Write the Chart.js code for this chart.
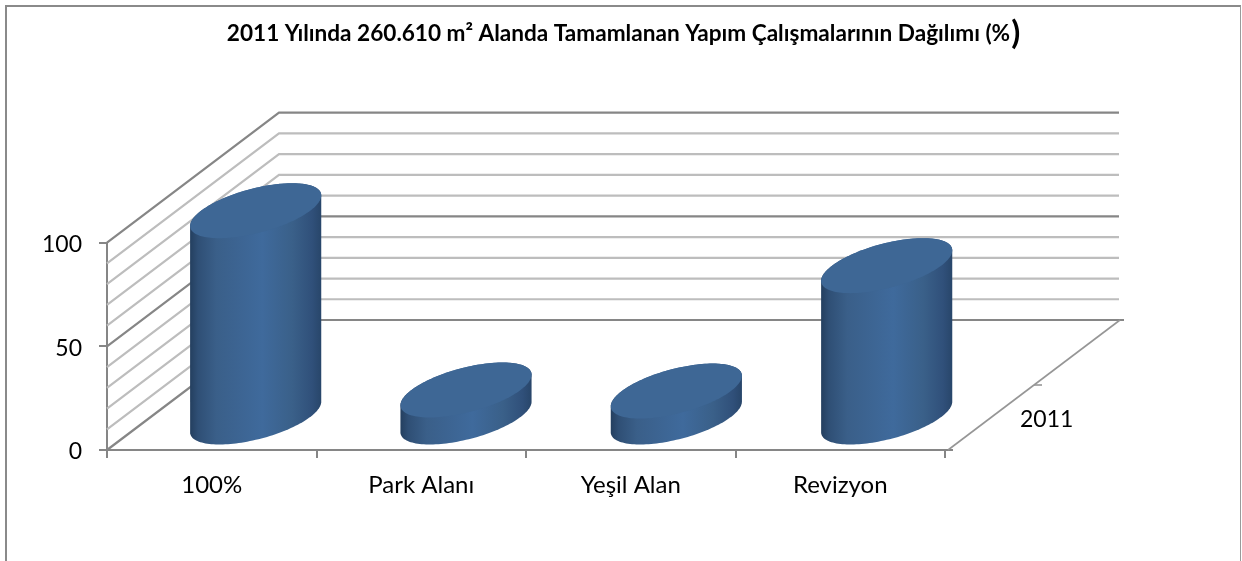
<!DOCTYPE html>
<html lang="tr">
<head>
<meta charset="utf-8">
<title>2011 Yapım Çalışmaları</title>
<script src="https://cdn.jsdelivr.net/npm/chart.js@4/dist/chart.umd.min.js"></script>
<style>
html,body{margin:0;padding:0;width:1242px;height:561px;overflow:hidden;background:#fff}
#frame{position:absolute;left:5px;top:5px;width:1233px;height:600px;border-left:2px solid #8a8a8a;border-top:2px solid #8a8a8a;border-right:1px solid #9a9a9a}
canvas{position:absolute;left:0;top:0}
</style>
</head>
<body>
<div id="frame"></div>
<canvas id="c" width="1237" height="561"></canvas>
<script>
const categories = ['100%', 'Park Alanı', 'Yeşil Alan', 'Revizyon'];
const values = [100, 13.5, 13, 73.5];
const seriesName = '2011';
const wallValues = [0, 10, 20, 30, 40, 50, 60, 70, 80, 90, 100];
const majorValues = [0, 50, 100];
const yTicks = [0, 50, 100];
const titleText = '2011 Yılında 260.610 m² Alanda Tamamlanan Yapım Çalışmalarının Dağılımı (%';
const titleClose = ')';

const FONT = 'Lato, Carlito, Calibri, sans-serif';
const AXIS = '#868686', MINOR = '#bdbdbd';
const DEPTH = {dx: 172, dy: -130};          // floor depth vector
const ROW = {dx: 43.5, dy: -32};            // where the single series row sits on the floor
const RADIUS = {vx: 36.4, vy: -27.5};       // depth half-axis of a cylinder's disc

function line(ctx, pts, color, w) {
  ctx.save();
  ctx.strokeStyle = color; ctx.lineWidth = w; ctx.lineJoin = 'miter';
  ctx.beginPath();
  pts.forEach((p, i) => i ? ctx.lineTo(p[0], p[1]) : ctx.moveTo(p[0], p[1]));
  ctx.stroke();
  ctx.restore();
}

const titleCentrePlugin = {
  id: 'titleCentre',
  afterLayout(chart) {
    chart.titleBlock.left = 0;
    chart.titleBlock.right = chart.width;
  }
};

const wallsPlugin = {
  id: 'walls',
  beforeDatasetsDraw(chart) {
    const {ctx, scales: {x, y}} = chart;
    const L = x.left, R = x.right, B = y.bottom;
    const backL = L + DEPTH.dx, backR = R + DEPTH.dx + 2;
    const sorted = wallValues.filter(v => !majorValues.includes(v)).concat(majorValues);
    sorted.forEach(v => {
      if (v === 0) return;
      const py = y.getPixelForValue(v);
      line(ctx, [[L, py], [backL, py + DEPTH.dy], [backR, py + DEPTH.dy]],
           majorValues.includes(v) ? AXIS : MINOR, 2.2);
    });
    // floor
    line(ctx, [[L, B], [backL, B + DEPTH.dy], [backR + 5, B + DEPTH.dy]], AXIS, 2.2);
    line(ctx, [[R + 8, B], [R, B]], AXIS, 2);
    line(ctx, [[R + 3, B], [R + DEPTH.dx + 3, B + DEPTH.dy]], '#969696', 1.6);
    const mx = R + DEPTH.dx / 2 + 3, my = B + DEPTH.dy / 2;
    line(ctx, [[mx, my], [mx + 8, my]], '#969696', 1.6);
  }
};

const cylinderPlugin = {
  id: 'cylinders',
  afterDatasetsDraw(chart) {
    const {ctx, scales: {x}} = chart;
    chart.getDatasetMeta(0).data.forEach(bar => {
      const cx = bar.x + ROW.dx + (bar.x - x.left) * 0.004 ;
      const rx = bar.width / 2;
      const vx = RADIUS.vx, vy = RADIUS.vy;
      const ux = Math.sqrt(rx * rx - vx * vx);
      const t0 = Math.atan2(vx, ux);
      const at = (cy, t) => [cx + ux * Math.cos(t) + vx * Math.sin(t), cy + vy * Math.sin(t)];
      const topY = bar.y + ROW.dy, baseY = bar.base + ROW.dy;

      const g = ctx.createLinearGradient(cx - rx, 0, cx + rx, 0);
      g.addColorStop(0, '#243f5f');
      g.addColorStop(0.06, '#2f4f75');
      g.addColorStop(0.2, '#3a5f89');
      g.addColorStop(0.55, '#3f6a9c');
      g.addColorStop(0.78, '#3a6089');
      g.addColorStop(0.93, '#30507a');
      g.addColorStop(1, '#28466a');

      // side surface: lower half of the base disc, closed over the far side of the top disc
      ctx.beginPath();
      const N = 72;
      for (let i = 0; i <= N; i++) {
        const p = at(baseY, t0 - Math.PI * i / N);
        i ? ctx.lineTo(p[0], p[1]) : ctx.moveTo(p[0], p[1]);
      }
      for (let i = 0; i <= N; i++) {
        const p = at(topY, t0 + Math.PI - Math.PI * i / N);
        ctx.lineTo(p[0], p[1]);
      }
      ctx.closePath();
      ctx.fillStyle = g;
      ctx.fill();

      // top disc
      ctx.beginPath();
      for (let i = 0; i <= N * 2; i++) {
        const p = at(topY, Math.PI * i / N);
        i ? ctx.lineTo(p[0], p[1]) : ctx.moveTo(p[0], p[1]);
      }
      ctx.closePath();
      ctx.fillStyle = '#3e6795';
      ctx.fill();
    });
  },
  afterDraw(chart) {
    const {ctx, scales: {x, y}} = chart;
    ctx.save();
    ctx.fillStyle = '#000';
    ctx.textBaseline = 'middle';
    ctx.font = '23px ' + FONT;
    ctx.textAlign = 'left';
    ctx.fillText(chart.data.datasets[0].label, x.right + 75, y.bottom - 30);
    // oversized closing bracket right after the title
    const t = chart.options.plugins.title;
    ctx.font = 'bold ' + t.font.size + 'px ' + FONT;
    const w = ctx.measureText(titleText).width;
    ctx.font = 'bold 33px ' + FONT;
    ctx.fillText(titleClose, chart.width / 2 + w / 2 + 1, 33);
    ctx.restore();
  }
};

new Chart(document.getElementById('c'), {
  type: 'bar',
  data: {
    labels: categories,
    datasets: [{
      label: seriesName,
      data: values,
      backgroundColor: 'rgba(0,0,0,0)',
      borderWidth: 0,
      barPercentage: 0.626,
      categoryPercentage: 1
    }]
  },
  options: {
    responsive: false,
    animation: false,
    layout: {padding: {left: 0, right: 292, top: 0, bottom: 0}},
    plugins: {
      legend: {display: false},
      tooltip: {enabled: false},
      title: {
        display: true,
        text: titleText,
        color: '#000',
        font: {family: FONT, size: 22.6, weight: 'bold', lineHeight: 1.2},
        padding: {top: 20, bottom: 195.6}
      }
    },
    scales: {
      x: {
        type: 'category',
        afterFit(s) { s.height = 111; },
        border: {color: AXIS, width: 2},
        grid: {offset: true, drawOnChartArea: false, drawTicks: true, tickLength: 8, color: AXIS, lineWidth: 2},
        ticks: {color: '#000', font: {family: FONT, size: 24}, padding: 13, maxRotation: 0, autoSkip: false}
      },
      y: {
        type: 'linear',
        min: 0,
        max: 100,
        afterFit(s) { s.width = 107; },
        afterBuildTicks(s) { s.ticks = yTicks.map(v => ({value: v})); },
        border: {color: AXIS, width: 2},
        grid: {drawOnChartArea: false, drawTicks: true, tickLength: 8, color: AXIS, lineWidth: 2},
        ticks: {color: '#000', font: {family: FONT, size: 23}, padding: 17, labelOffset: 2}
      }
    }
  },
  plugins: [titleCentrePlugin, wallsPlugin, cylinderPlugin]
});
</script>
</body>
</html>
